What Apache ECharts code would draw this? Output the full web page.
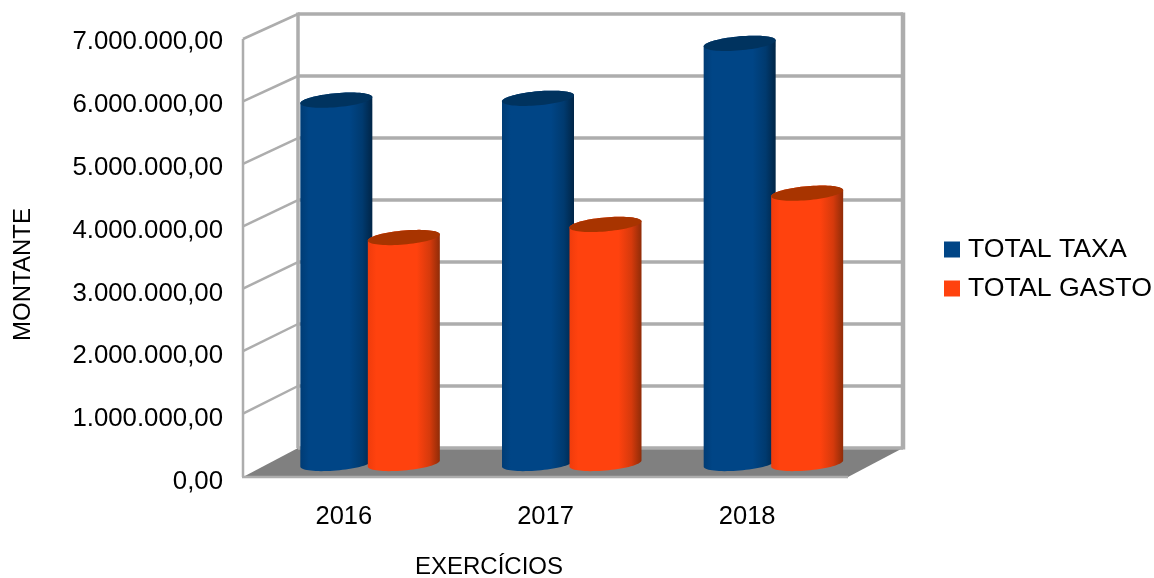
<!DOCTYPE html>
<html>
<head>
<meta charset="utf-8">
<style>html,body{margin:0;padding:0;background:#fff}#c{width:1154px;height:578px;filter:blur(0.5px)}</style>
<script src="https://cdn.jsdelivr.net/npm/echarts@6/dist/echarts.min.js"></script>
</head>
<body>
<div id="c"></div>
<script>
const categories = ['2016', '2017', '2018'];
const totalTaxa = [5820000, 5850000, 6730000];
const totalGasto = [3620000, 3830000, 4330000];
const tickValues = [0, 1000000, 2000000, 3000000, 4000000, 5000000, 6000000, 7000000];
const seriesNames = ['TOTAL TAXA', 'TOTAL GASTO'];
const xTitle = 'EXERCÍCIOS';
const yTitle = 'MONTANTE';

const FONT = '"Liberation Sans", Arial, sans-serif';
const WALL = '#adadad';
const DX = 55, BACK_BOTTOM = 448, FRONT_BOTTOM = 476, BACK_SCALE = 62 / 62.43;
const backY = y => BACK_BOTTOM - (FRONT_BOTTOM - y) * BACK_SCALE;

function fmt(v) {
  const s = String(Math.round(v)).replace(/\B(?=(\d{3})+$)/g, '.');
  return s + ',00';
}

function wallItem(params, api) {
  const v = api.value(0);
  const y = api.coord([0, v])[1];
  const x0 = params.coordSys.x, x1 = x0 + params.coordSys.width;
  const kids = [];
  const ls = w => ({ stroke: WALL, lineWidth: w, fill: null });
  kids.push({ type: 'line', shape: { x1: x0 + DX, y1: backY(y), x2: x1 + DX, y2: backY(y) }, style: ls(3.5) });
  if (v > 0) {
    kids.push({ type: 'line', shape: { x1: x0, y1: y, x2: x0 + DX, y2: backY(y) }, style: ls(2.5) });
  } else {
    kids.unshift({ type: 'polygon', shape: { points: [[x0, y + 1], [x0 + DX, backY(y)], [x1 + DX, backY(y)], [x1, y + 1]] }, style: { fill: '#808080' } });
    kids.push({ type: 'line', shape: { x1: x0 - 1, y1: y + 1, x2: x1, y2: y + 1 }, style: ls(2.5) });
    const top = api.coord([0, 7000000])[1];
    kids.push({ type: 'line', shape: { x1: x0, y1: top, x2: x0, y2: y + 1 }, style: ls(2.5) });
    kids.push({ type: 'line', shape: { x1: x0 + DX, y1: backY(top) - 1.5, x2: x0 + DX, y2: backY(y) }, style: ls(3.5) });
    kids.push({ type: 'line', shape: { x1: x1 + DX, y1: backY(top) - 1.5, x2: x1 + DX, y2: backY(y) + 1.5 }, style: ls(4.5) });
  }
  return { type: 'group', children: kids };
}

function cylinder(offset, base, mid, dark, cap, edge) {
  return function (params, api) {
    const p = api.coord([api.value(0), api.value(1)]);
    const cx = p[0] + offset, rx = 36, ry = 7, s = -0.085, lift = 12.5;
    const topY = p[1] - lift, botY = api.coord([api.value(0), 0])[1] - lift;
    const pt = (cy, t) => [cx + rx * Math.cos(t), cy + rx * Math.cos(t) * s + ry * Math.sin(t)];
    const body = [], capPts = [];
    const N = 36;
    for (let i = 0; i <= N; i++) body.push(pt(topY, Math.PI + Math.PI * i / N));
    for (let i = 0; i <= N; i++) body.push(pt(botY, Math.PI * i / N));
    for (let i = 0; i < 2 * N; i++) capPts.push(pt(topY, Math.PI * i / N));
    return {
      type: 'group',
      children: [
        { type: 'polygon', shape: { points: body }, style: { fill: {
          type: 'linear', x: 0, y: 0, x2: 1, y2: 0,
          colorStops: [
            { offset: 0, color: edge }, { offset: 0.12, color: base }, { offset: 0.68, color: base },
            { offset: 0.86, color: mid }, { offset: 1, color: dark }
          ] } } },
        { type: 'polygon', shape: { points: capPts }, style: { fill: cap } }
      ]
    };
  };
}

const chart = echarts.init(document.getElementById('c'), null, { renderer: 'canvas' });
chart.setOption({
  animation: false,
  backgroundColor: '#ffffff',
  textStyle: { fontFamily: FONT },
  grid: [
    { left: 243, top: 39, width: 605, height: 437 },
    { left: 243, top: 42, width: 605, height: 440 }
  ],
  xAxis: [
    { type: 'category', gridIndex: 0, data: categories,
      axisLine: { show: false }, axisTick: { show: false }, splitLine: { show: false },
      axisLabel: { color: '#000', fontSize: 25.5, fontFamily: FONT, margin: 28 } },
    { type: 'category', gridIndex: 1, data: categories, show: false }
  ],
  yAxis: [
    { type: 'value', gridIndex: 0, min: 0, max: 7000000, interval: 1000000, show: false },
    { type: 'value', gridIndex: 1, min: 0, max: 7000000, interval: 1000000,
      axisLine: { show: false }, axisTick: { show: false }, splitLine: { show: false },
      axisLabel: { color: '#000', fontSize: 25.8, fontFamily: FONT, margin: 20, formatter: fmt } }
  ],
  legend: {
    orient: 'vertical', left: 939, top: 231, itemWidth: 16, itemHeight: 16, itemGap: 12,
    icon: 'rect', data: seriesNames, selectedMode: false,
    textStyle: { color: '#000', fontSize: 26.7, fontFamily: FONT, padding: [0, 0, 0, 3] }
  },
  tooltip: { show: false },
  series: [
    { type: 'custom', name: 'walls', coordinateSystem: 'cartesian2d', encode: { y: 0 }, silent: true, z: 1,
      data: tickValues.map(v => [v]).reverse(), renderItem: wallItem },
    { type: 'custom', name: seriesNames[0], silent: true, z: 3, itemStyle: { color: '#004586' },
      encode: { x: 0, y: 1 },
      data: categories.map((c, i) => [i, totalTaxa[i]]),
      renderItem: cylinder(-7.5, '#004586', '#003a6f', '#002547', '#00335f', '#003c75') },
    { type: 'custom', name: seriesNames[1], silent: true, z: 4, itemStyle: { color: '#ff420e' },
      encode: { x: 0, y: 1 },
      data: categories.map((c, i) => [i, totalGasto[i]]),
      renderItem: cylinder(60, '#ff420e', '#d63a0c', '#8f2c08', '#a83400', '#f03c0c') }
  ],
  graphic: [
    { type: 'text', x: 489, y: 567, style: { text: xTitle, fontSize: 24, fontFamily: FONT, fill: '#000', textAlign: 'center', textVerticalAlign: 'middle' } },
    { type: 'text', x: 23, y: 274.5, rotation: Math.PI / 2, style: { text: yTitle, fontSize: 24, fontFamily: FONT, fill: '#000', textAlign: 'center', textVerticalAlign: 'middle' } }
  ]
});
</script>
</body>
</html>
